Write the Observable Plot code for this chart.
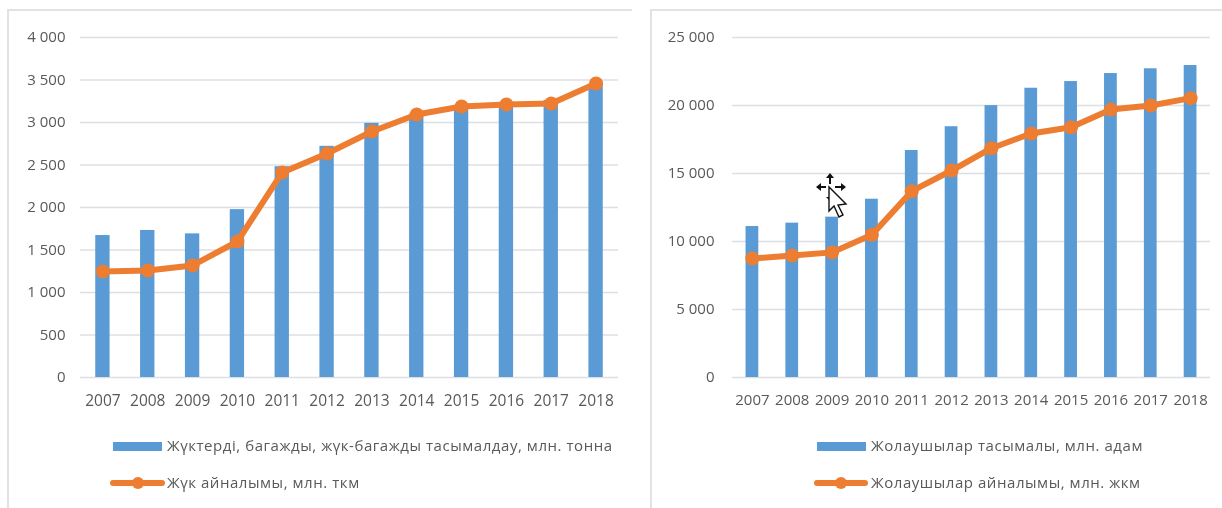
<!DOCTYPE html>
<html>
<head>
<meta charset="utf-8">
<script src="https://cdn.jsdelivr.net/npm/d3@7"></script>
<script src="https://cdn.jsdelivr.net/npm/@observablehq/plot@0.6"></script>
<style>
html,body{margin:0;padding:0;background:#fff;overflow:hidden}
#root{position:relative;width:1222px;height:508px;font-family:"Open Sans",sans-serif;color:#595959;filter:blur(0.4px)}
.frame{position:absolute;top:9px;border-top:2px solid #e2e2e2;border-left:2px solid #e2e2e2;height:499px;box-sizing:border-box}
.chart{position:absolute;top:0}
.chart svg{display:block}
.leg{position:absolute;font-size:15px;line-height:20px;white-space:nowrap;color:#595959}
.sw{position:absolute}
</style>
</head>
<body>
<div id="root"></div>
<script>
const years = [2007,2008,2009,2010,2011,2012,2013,2014,2015,2016,2017,2018];

const freightBars = [1670,1730,1690,1975,2480,2720,2990,3100,3170,3210,3260,3450];
const freightLine = [1247,1259,1318,1600,2412,2635,2894,3094,3188,3212,3224,3459];
const freightTicks = [0,500,1000,1500,2000,2500,3000,3500,4000];
const freightBarLabel = "Жүктерді, багажды, жүк-багажды тасымалдау, млн. тонна";
const freightLineLabel = "Жүк айналымы, млн. ткм";

const passengerBars = [11100,11350,11790,13110,16690,18440,19990,21270,21760,22350,22700,22940];
const passengerLine = [8750,8970,9200,10500,13700,15220,16860,17940,18400,19700,20000,20540];
const passengerTicks = [0,5000,10000,15000,20000,25000];
const passengerBarLabel = "Жолаушылар тасымалы, млн. адам";
const passengerLineLabel = "Жолаушылар айналымы, млн. жкм";

const BLUE = "#5B9BD5", ORANGE = "#ED7D31", GRID = "#dcdfe3", TEXT = "#595959";
const fmt = v => d3.format(",")(v).replace(/,/g, " ");
const root = document.getElementById("root");

function chart({left, width, marginLeft, marginRight, tickPadding, xSize, ticks, domainMax, bars, line}) {
  const barRows = years.map((year, i) => ({year: String(year), value: bars[i]}));
  const lineRows = years.map((year, i) => ({year: String(year), value: line[i]}));
  const svg = Plot.plot({
    width, height: 420,
    marginLeft, marginRight, marginTop: 37, marginBottom: 43,
    style: {fontFamily: '"Open Sans",sans-serif', fontSize: "15px", color: TEXT, background: "transparent"},
    x: {type: "band", domain: years.map(String), paddingInner: 0.68, paddingOuter: 0.34, align: 0.5, round: false, label: null},
    y: {domain: [0, domainMax], label: null},
    marks: [
      Plot.ruleY(ticks, {stroke: GRID, strokeWidth: 1.5}),
      Plot.barY(barRows, {x: "year", y: "value", fill: BLUE}),
      Plot.line(lineRows, {x: "year", y: "value", stroke: ORANGE, strokeWidth: 6, curve: "linear"}),
      Plot.dot(lineRows, {x: "year", y: "value", r: 7, fill: ORANGE}),
      Plot.axisY({ticks, tickFormat: fmt, tickSize: 0, tickPadding, label: null, fill: TEXT, fontSize: 15}),
      Plot.axisX({tickSize: 0, tickPadding: 17, label: null, fill: TEXT, fontSize: xSize})
    ]
  });
  const holder = document.createElement("div");
  holder.className = "chart";
  holder.style.left = left + "px";
  holder.appendChild(svg);
  root.appendChild(holder);
}

function frame(left, width) {
  const f = document.createElement("div");
  f.className = "frame";
  f.style.left = left + "px";
  f.style.width = width + "px";
  root.appendChild(f);
}

function legendRow(top, text, textLeft, spacing) {
  const l = document.createElement("div");
  l.className = "leg";
  l.textContent = text;
  l.style.left = textLeft + "px";
  l.style.top = (top - 11) + "px";
  l.style.letterSpacing = spacing + "px";
  root.appendChild(l);
}

function swatchBar(x, w, y) {
  const s = document.createElement("div");
  s.className = "sw";
  s.style.cssText += `left:${x}px;top:${y - 4.5}px;width:${w}px;height:9px;background:${BLUE}`;
  root.appendChild(s);
}

function swatchLine(x, w, y) {
  const s = document.createElement("div");
  s.className = "sw";
  s.style.cssText += `left:${x}px;top:${y - 3}px;width:${w}px;height:6px;background:${ORANGE};border-radius:3px`;
  root.appendChild(s);
  const d = document.createElement("div");
  d.className = "sw";
  d.style.cssText += `left:${x + w / 2 - 6}px;top:${y - 6}px;width:12px;height:12px;background:${ORANGE};border-radius:50%`;
  root.appendChild(d);
}

frame(7, 625);
frame(650, 572);

chart({left: 0, width: 640, marginLeft: 80, marginRight: 22, tickPadding: 15, xSize: 15.5, ticks: freightTicks, domainMax: 4000, bars: freightBars, line: freightLine});
chart({left: 640, width: 582, marginLeft: 92, marginRight: 12, tickPadding: 18, xSize: 15, ticks: passengerTicks, domainMax: 25000, bars: passengerBars, line: passengerLine});

swatchBar(113, 49, 446);
legendRow(446, freightBarLabel, 167, 0.55);
swatchLine(110, 55, 483);
legendRow(483, freightLineLabel, 167, 0.55);

swatchBar(817, 49, 446);
legendRow(446, passengerBarLabel, 871, 0.55);
swatchLine(814, 54, 483);
legendRow(483, passengerLineLabel, 871, 0.55);

// Mouse pointer captured in the original screenshot (not chart data)
const cursor = document.createElement("div");
cursor.style.cssText = "position:absolute;left:815px;top:173px;width:36px;height:46px";
cursor.innerHTML = `<svg width="36" height="46" viewBox="0 0 36 46">
<path d="M15 0l4 5h-3v6h-2V5h-3zM1 14l5-4v3h5v2H6v3zM31 14l-5-4v3h-6v2h6v3zM14 18h2v6h3l-4 4-4-4h3z" fill="#111"/>
<path d="M14 14v24l5-5 5 11 4-2-5-10 8-1z" fill="#fff" stroke="#111" stroke-width="1.4"/>
</svg>`;
root.appendChild(cursor);
</script>
</body>
</html>
